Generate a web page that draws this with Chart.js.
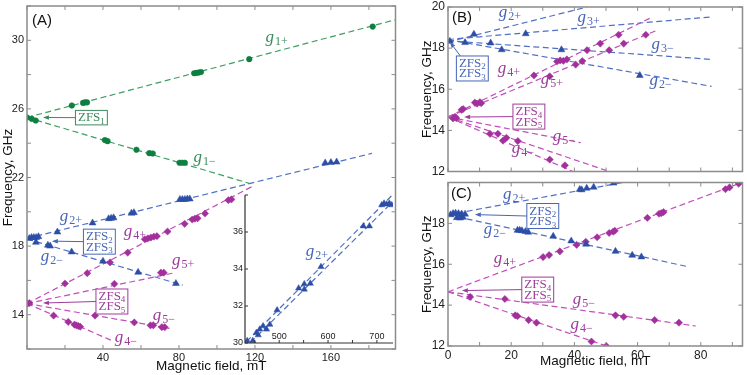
<!DOCTYPE html>
<html>
<head>
<meta charset="utf-8">
<title>Frequency vs magnetic field</title>
<script src="https://cdn.jsdelivr.net/npm/chart.js@4.4.1/dist/chart.umd.min.js"></script>
<style>
  html, body { margin: 0; padding: 0; background: #fff; }
  #wrap { position: relative; width: 747px; height: 375px; overflow: hidden; }
  #wrap canvas { position: absolute; }
</style>
</head>
<body>
<div id="wrap">
  <canvas id="panelA" width="400" height="375" style="left:0;top:0"></canvas>
  <canvas id="inset" width="185" height="160" style="left:215px;top:190px"></canvas>
  <canvas id="panelB" width="347" height="176" style="left:400px;top:0"></canvas>
  <canvas id="panelC" width="347" height="197" style="left:400px;top:178px"></canvas>
</div>
<script>
// ---- panel A: [field mT, frequency GHz] ----
const aG1Plus = [[0, 25.5], [23.6, 26.2], [29.5, 26.35], [30.5, 26.38], [31.6, 26.38], [88, 28.08], [89.2, 28.1], [90.4, 28.12], [91.6, 28.15], [117, 28.9], [182, 30.8]];
const aG1Minus = [[2.5, 25.42], [4.6, 25.32], [41, 24.18], [42.4, 24.12], [57.6, 23.62], [64.4, 23.42], [66.2, 23.4], [80.3, 22.86], [81.7, 22.86], [83.1, 22.86]];
const aG1PlusFit = [[0, 25.5], [194, 31.2]];
const aG1MinusFit = [[0, 25.5], [117, 21.66]];

const aG2Plus = [[1.2, 18.45], [2.4, 18.5], [3.6, 18.5], [4.8, 18.5], [6, 18.55], [16, 18.82], [34.5, 19.35], [43, 19.6], [44.3, 19.62], [45.6, 19.65], [55, 19.92], [56.3, 19.95], [80.5, 20.72], [81.8, 20.72], [83.1, 20.72], [84.4, 20.75], [85.7, 20.75], [157, 22.85], [160, 22.88], [163, 22.9]];
const aG2Minus = [[4.7, 18.22], [11, 18.05], [12.2, 18.0], [23.5, 17.66], [40, 17.12], [58.5, 16.47], [78.4, 15.82]];
const aG2PlusFit = [[0, 18.45], [181.6, 23.41]];
const aG2MinusFit = [[0, 18.42], [82, 15.72]];

const aZfs45 = [[0.3, 14.65], [1.2, 14.68]];
const aG4Plus = [[20, 15.82], [31.7, 16.42], [43.7, 17.05], [53, 17.62], [62, 18.4], [63.6, 18.45], [65.2, 18.5], [66.8, 18.55], [68.4, 18.58], [74, 18.85], [83, 19.3], [87, 19.55], [88.4, 19.6], [89.8, 19.62], [93.7, 19.9], [106, 20.68], [107.6, 20.72]];
const aG5Plus = [[46, 15.8], [70.5, 16.45], [72, 16.45]];
const aG5Minus = [[35.8, 13.95], [56.5, 13.55], [65, 13.38], [66.5, 13.38], [71, 13.27], [72.5, 13.27]];
const aG4Minus = [[14, 13.95], [21.7, 13.58], [25, 13.42], [26, 13.38], [27, 13.34], [28, 13.3]];
const aG4PlusFit = [[0, 14.65], [119, 21.5]];
const aG5PlusFit = [[0, 14.65], [78, 16.45]];
const aG5MinusFit = [[0, 14.65], [75, 13.2]];
const aG4MinusFit = [[0, 14.65], [44.5, 12.5]];

// ---- inset of A (high field) ----
const inG2Plus = [[434.5, 30.12], [445.9, 30.12], [453.4, 30.56], [457, 30.43], [460.2, 30.74], [467, 30.92], [474, 30.74], [480.8, 31.0], [495.7, 31.78], [539.8, 32.96], [551.4, 32.9], [551.4, 33.19], [563.7, 33.22], [585.5, 34.12], [672.4, 36.32], [684.7, 36.32], [709.9, 37.46], [714.7, 37.55], [720, 37.5], [725.5, 37.55], [730.4, 37.46]];
const inFitUpper = [[433, 30.07], [733.6, 38.05]];
const inFitLower = [[441, 30.02], [730.4, 37.58]];

// ---- panel B ----
const bZfs23 = [[0.6, 18.33]];
const bG2Plus = [[8.2, 18.68]];
const bG3Plus = [[24.6, 18.7]];
const bG3Minus = [[13.5, 18.25], [35.9, 17.92]];
const bG2Minus = [[5.4, 18.27], [17, 17.92], [60.7, 16.67]];
const bG2PlusFit = [[0, 18.3], [44, 20]];
const bG3PlusFit = [[0, 18.42], [83.4, 19.52]];
const bG3MinusFit = [[0, 18.36], [83.4, 17.45]];
const bG2MinusFit = [[0, 18.41], [83.4, 16.14]];

const bZfs45 = [[1.6, 14.58], [2.2, 14.66], [2.6, 14.6]];
const bG4Plus = [[4.8, 15.04], [8.5, 15.35], [10.1, 15.37], [27.2, 16.67], [34.5, 17.35], [35.5, 17.4], [36.5, 17.38], [37.6, 17.45], [44, 17.9], [48.2, 18.22], [54, 18.65]];
const bG5Plus = [[4.3, 15.0], [9.2, 15.3], [10.5, 15.32], [32.2, 16.63], [40.4, 17.2], [42.5, 17.37], [51, 17.9], [55.6, 18.22], [62.6, 18.65]];
const bG4MinusA = [[15.8, 13.83], [18.5, 13.64], [22.1, 13.48]];
const bG4MinusB = [[13.3, 13.83], [17.4, 13.5], [32.2, 12.58], [37, 12.3]];
const bG4PlusFit = [[0, 14.65], [64.8, 19.52]];
const bG5PlusFit = [[0, 14.65], [65.7, 18.84]];
const bG5MinusFit = [[0, 14.65], [42, 13.4]];
const bG4MinusAFit = [[0, 14.65], [52, 11.95]];
const bG4MinusBFit = [[0, 14.65], [41, 11.9]];

// ---- panel C ----
const cZfs23 = [[0.8, 18.42], [1.6, 18.48], [2.4, 18.5], [2.8, 18.28], [3.3, 18.48], [3.8, 18.26], [4.3, 18.46], [4.7, 18.3], [5.4, 18.45]];
const cG2Plus = [[41.7, 19.66], [42.3, 19.64], [43.9, 19.72], [46.1, 19.77], [52.4, 19.97]];
const cG2Minus = [[22, 17.66], [22.7, 17.66], [23.4, 17.64], [24.5, 17.6], [25.4, 17.57], [33.3, 17.37], [39, 17.14], [43.7, 16.98], [53, 16.63], [58.3, 16.44], [61.2, 16.36]];
const cG2PlusFit = [[0, 18.42], [57, 20.05]];
const cG2MinusFit = [[0, 18.42], [75.4, 15.9]];

const cG4Plus = [[30.1, 16.35], [32, 16.45], [35.4, 16.63], [40.7, 16.95], [43.6, 17.1], [47.2, 17.32], [51, 17.53], [52.3, 17.6], [52.8, 17.64], [63.1, 18.27], [66.8, 18.47], [67.5, 18.5], [68.2, 18.55], [87.8, 19.67], [89.1, 19.76], [92, 19.94]];
const cG5Minus = [[7, 14.4], [18, 14.3], [53, 13.5], [55.6, 13.43], [65.4, 13.27], [73.1, 13.14]];
const cG4Minus = [[21.3, 13.5], [22, 13.46], [25.5, 13.27], [28, 13.14], [45.4, 12.22], [50.1, 12.0]];
const cG4PlusFit = [[0, 14.65], [93, 20.0]];
const cG5MinusFit = [[0, 14.65], [78.4, 12.98]];
const cG4MinusFit = [[0, 14.65], [52, 11.9]];

// tick labels
const aXLabels = [40, 80, 120, 160];
const aYLabels = [14, 18, 22, 26, 30];
const inXLabels = [500, 600, 700];
const inYLabels = [30, 32, 34, 36];
const bYLabels = [12, 14, 16, 18, 20];
const cXLabels = [0, 20, 40, 60, 80];
const cYLabels = [12, 14, 16, 18];

const green = { pt: '#0d7f40', line: '#3d9f60', text: '#3a8c5c' };
const blue = { pt: '#2d4ea6', line: '#5070c4', text: '#4866b8' };
const magenta = { pt: '#a2309c', line: '#c24dbb', text: '#9d3c9a' };
const SANS = '"Liberation Sans", Arial, sans-serif';
const SERIF = '"Liberation Serif", "Times New Roman", serif';

const toXY = arr => arr.map(([x, y]) => ({ x, y }));

const marks = (arr, c, style, r) => ({
  data: toXY(arr), showLine: false, pointStyle: style, pointRadius: r,
  backgroundColor: c.pt, borderColor: c.pt, borderWidth: 0.5, order: 1
});

const fitLine = (arr, c) => ({
  data: toXY(arr), showLine: true, pointRadius: 0, borderColor: c.line,
  borderWidth: 1.2, borderDash: [6, 3.5], order: 2
});

const labelsOnly = list => v => list.some(l => Math.abs(l - v) < 1e-6) ? String(v) : null;

const pinSize = (w, h) => s => {
  if (w != null) s.width = w;
  if (h != null) s.height = h;
  s.paddingLeft = s.paddingRight = s.paddingTop = s.paddingBottom = 0;
};

function xAxis(o) {
  return {
    type: 'linear', position: 'bottom', min: o.min, max: o.max,
    grid: { display: false, drawTicks: false }, border: { display: false },
    ticks: { stepSize: o.step, autoSkip: false, maxRotation: 0, padding: o.pad, color: '#222',
      font: { family: SANS, size: o.fs }, callback: labelsOnly(o.labels) },
    title: o.title
      ? { display: true, text: o.title, color: '#111', font: { family: SANS, size: 13.5 }, padding: { top: 0, bottom: o.titlePad } }
      : { display: false },
    afterFit: pinSize(null, o.h)
  };
}

function yAxis(o) {
  return {
    type: 'linear', position: 'left', min: o.min, max: o.max,
    grid: { display: false, drawTicks: false }, border: { display: false },
    ticks: { stepSize: o.step, autoSkip: false, padding: o.pad, color: '#222',
      font: { family: SANS, size: o.fs }, callback: labelsOnly(o.labels) },
    title: o.title
      ? { display: true, text: o.title, color: '#111', font: { family: SANS, size: 13.5 }, padding: { top: o.titlePad, bottom: 0 } }
      : { display: false },
    afterFit: pinSize(o.w, null)
  };
}

// frame with inward ticks; optional x labels sitting inside, above the axis
function framePlugin(o) {
  return {
    id: 'frame',
    afterDatasetsDraw(chart) {
      const { ctx, chartArea: a, scales: { x, y } } = chart;
      ctx.save();
      ctx.strokeStyle = o.color;
      ctx.lineWidth = 1;
      ctx.beginPath();
      for (let i = Math.ceil(x.min / o.xStep - 1e-9); i <= Math.floor(x.max / o.xStep + 1e-9); i++) {
        const px = x.getPixelForValue(i * o.xStep);
        ctx.moveTo(px, a.bottom); ctx.lineTo(px, a.bottom - o.len);
        if (o.box) { ctx.moveTo(px, a.top); ctx.lineTo(px, a.top + o.len); }
      }
      for (let i = Math.ceil(y.min / o.yStep - 1e-9); i <= Math.floor(y.max / o.yStep + 1e-9); i++) {
        const py = y.getPixelForValue(i * o.yStep);
        ctx.moveTo(a.left, py); ctx.lineTo(a.left + o.len, py);
        if (o.box) { ctx.moveTo(a.right, py); ctx.lineTo(a.right - o.len, py); }
      }
      ctx.stroke();
      ctx.lineWidth = o.width;
      ctx.beginPath();
      if (o.box) {
        ctx.rect(a.left, a.top, a.right - a.left, a.bottom - a.top);
      } else {
        ctx.moveTo(a.left, a.top); ctx.lineTo(a.left, a.bottom); ctx.lineTo(a.right, a.bottom);
      }
      ctx.stroke();
      if (o.innerX) {
        ctx.font = o.innerFont; ctx.fillStyle = '#222';
        ctx.textAlign = 'center'; ctx.textBaseline = 'bottom';
        o.innerX.forEach(v => ctx.fillText(String(v), x.getPixelForValue(v), a.bottom - 2));
      }
      ctx.restore();
    }
  };
}

function drawG(ctx, cx, cy, sub, color) {
  const big = 'italic 17px ' + SERIF, small = '12px ' + SERIF;
  ctx.font = big; const w1 = ctx.measureText('g').width;
  ctx.font = small; const w2 = ctx.measureText(sub).width;
  const left = cx - (w1 + w2 + 1) / 2;
  ctx.fillStyle = color; ctx.textAlign = 'left'; ctx.textBaseline = 'alphabetic';
  ctx.font = big; ctx.fillText('g', left, cy + 2);
  ctx.font = small; ctx.fillText(sub, left + w1 + 1, cy + 5);
}

function drawBox(ctx, cx, cy, rows, color) {
  const big = '13px ' + SERIF, small = '9px ' + SERIF;
  const sizes = rows.map(([m, s]) => {
    ctx.font = big; const w1 = ctx.measureText(m).width;
    ctx.font = small; return [w1, ctx.measureText(s).width];
  });
  const w = Math.max(...sizes.map(([p, q]) => p + q)) + 5;
  const lh = 10.5, h = rows.length * lh + 4;
  const left = cx - w / 2, top = cy - h / 2;
  ctx.fillStyle = '#fff'; ctx.fillRect(left, top, w, h);
  ctx.strokeStyle = color; ctx.lineWidth = 1; ctx.strokeRect(left, top, w, h);
  ctx.fillStyle = color; ctx.textAlign = 'left'; ctx.textBaseline = 'alphabetic';
  rows.forEach(([m, s], i) => {
    const [w1, w2] = sizes[i];
    const x0 = cx - (w1 + w2) / 2, base = top + 11 + i * lh;
    ctx.font = big; ctx.fillText(m, x0, base);
    ctx.font = small; ctx.fillText(s, x0 + w1, base + 2.5);
  });
  return { left, top, right: left + w, bottom: top + h };
}

function drawArrow(ctx, x1, y1, x2, y2, color) {
  const ang = Math.atan2(y2 - y1, x2 - x1), len = 6, half = 2.2;
  const c = Math.cos(ang), s = Math.sin(ang);
  ctx.strokeStyle = color; ctx.fillStyle = color; ctx.lineWidth = 1;
  ctx.beginPath(); ctx.moveTo(x1, y1); ctx.lineTo(x2 - len * c, y2 - len * s); ctx.stroke();
  ctx.beginPath(); ctx.moveTo(x2, y2);
  ctx.lineTo(x2 - len * c + half * s, y2 - len * s - half * c);
  ctx.lineTo(x2 - len * c - half * s, y2 - len * s + half * c);
  ctx.closePath(); ctx.fill();
}

function notesPlugin(items) {
  return {
    id: 'notes',
    afterDraw(chart) {
      const { ctx, chartArea: a, scales: { x, y } } = chart;
      ctx.save();
      items.forEach(n => {
        if (n.kind === 'tag') {
          ctx.font = '15px ' + SANS; ctx.fillStyle = '#111';
          ctx.textAlign = 'left'; ctx.textBaseline = 'top';
          ctx.fillText(n.text, a.left + n.dx, a.top + n.dy);
        } else if (n.kind === 'g') {
          drawG(ctx, x.getPixelForValue(n.at[0]), y.getPixelForValue(n.at[1]), n.sub, n.color.text);
        } else if (n.kind === 'box') {
          const r = drawBox(ctx, x.getPixelForValue(n.at[0]), y.getPixelForValue(n.at[1]), n.rows, n.color.text);
          const tx = x.getPixelForValue(n.to[0]), ty = y.getPixelForValue(n.to[1]);
          if (n.from === 'corner') drawArrow(ctx, r.left + 4, r.top, tx, ty, n.color.text);
          else drawArrow(ctx, r.left, (r.top + r.bottom) / 2, tx, ty, n.color.text);
        }
      });
      ctx.restore();
    }
  };
}

function panel(id, datasets, scales, pad, plugins) {
  return new Chart(document.getElementById(id), {
    type: 'scatter',
    data: { datasets },
    options: {
      responsive: false, animation: false, events: [],
      layout: { padding: pad },
      plugins: { legend: { display: false }, tooltip: { enabled: false } },
      scales
    },
    plugins
  });
}

const zfs23 = [['ZFS', '2'], ['ZFS', '3']];
const zfs45 = [['ZFS', '4'], ['ZFS', '5']];
const MINUS = '\u2212';

panel('panelA', [
  fitLine(aG1PlusFit, green), fitLine(aG1MinusFit, green),
  fitLine(aG2PlusFit, blue), fitLine(aG2MinusFit, blue),
  fitLine(aG4PlusFit, magenta), fitLine(aG5PlusFit, magenta),
  fitLine(aG5MinusFit, magenta), fitLine(aG4MinusFit, magenta),
  marks(aG1Plus, green, 'circle', 2.8), marks(aG1Minus, green, 'circle', 2.8),
  marks(aG2Plus, blue, 'triangle', 4), marks(aG2Minus, blue, 'triangle', 4),
  marks(aZfs45, magenta, 'rectRot', 3.6), marks(aG4Plus, magenta, 'rectRot', 3.6),
  marks(aG5Plus, magenta, 'rectRot', 3.6), marks(aG5Minus, magenta, 'rectRot', 3.6),
  marks(aG4Minus, magenta, 'rectRot', 3.6)
], {
  x: xAxis({ min: 0, max: 194, step: 20, labels: aXLabels, fs: 11, pad: 2, h: 26, title: 'Magnetic field, mT', titlePad: 1 }),
  y: yAxis({ min: 12, max: 32, step: 2, labels: aYLabels, fs: 11, pad: 3, w: 27, title: 'Frequency, GHz', titlePad: 0 })
}, { top: 6, right: 4, left: 0, bottom: 0 }, [
  framePlugin({ color: '#8c8c8c', width: 1.5, len: 4, xStep: 20, yStep: 2, box: true }),
  notesPlugin([
    { kind: 'tag', text: '(A)', dx: 5, dy: 7 },
    { kind: 'g', at: [131.4, 30.0], sub: '1+', color: green },
    { kind: 'g', at: [93.5, 23.0], sub: '1' + MINUS, color: green },
    { kind: 'box', at: [33.9, 25.49], rows: [['ZFS', '1']], to: [8.4, 25.5], color: green },
    { kind: 'g', at: [23.1, 19.57], sub: '2+', color: blue },
    { kind: 'g', at: [13.1, 17.24], sub: '2' + MINUS, color: blue },
    { kind: 'box', at: [38.1, 18.26], rows: zfs23, to: [13.1, 18.29], color: blue },
    { kind: 'g', at: [56.8, 18.7], sub: '4+', color: magenta },
    { kind: 'g', at: [82.2, 17.04], sub: '5+', color: magenta },
    { kind: 'box', at: [44.7, 14.77], rows: zfs45, to: [8.4, 14.68], color: magenta },
    { kind: 'g', at: [72, 13.83], sub: '5' + MINUS, color: magenta },
    { kind: 'g', at: [52, 12.52], sub: '4' + MINUS, color: magenta }
  ])
]);

panel('inset', [
  fitLine(inFitUpper, blue), fitLine(inFitLower, blue),
  marks(inG2Plus, blue, 'triangle', 3.6)
], {
  x: xAxis({ min: 430, max: 733, step: 50, labels: [], fs: 9, pad: 0, h: 7 }),
  y: yAxis({ min: 30, max: 38, step: 1, labels: inYLabels, fs: 9, pad: 2, w: 30 })
}, { top: 5, right: 7, left: 0, bottom: 0 }, [
  framePlugin({ color: '#333', width: 1.2, len: 3, xStep: 50, yStep: 2, box: false,
    innerX: inXLabels, innerFont: '9px ' + SANS }),
  notesPlugin([{ kind: 'g', at: [577.4, 34.81], sub: '2+', color: blue }])
]);

panel('panelB', [
  fitLine(bG2PlusFit, blue), fitLine(bG3PlusFit, blue), fitLine(bG3MinusFit, blue), fitLine(bG2MinusFit, blue),
  fitLine(bG4PlusFit, magenta), fitLine(bG5PlusFit, magenta), fitLine(bG5MinusFit, magenta),
  fitLine(bG4MinusAFit, magenta), fitLine(bG4MinusBFit, magenta),
  marks(bZfs23, blue, 'triangle', 4), marks(bG2Plus, blue, 'triangle', 4), marks(bG3Plus, blue, 'triangle', 4),
  marks(bG3Minus, blue, 'triangle', 4), marks(bG2Minus, blue, 'triangle', 4),
  marks(bZfs45, magenta, 'rectRot', 3.6), marks(bG4Plus, magenta, 'rectRot', 3.6), marks(bG5Plus, magenta, 'rectRot', 3.6),
  marks(bG4MinusA, magenta, 'rectRot', 3.6), marks(bG4MinusB, magenta, 'rectRot', 3.6)
], {
  x: xAxis({ min: 0, max: 93.2, step: 10, labels: [], fs: 12, pad: 2, h: 3 }),
  y: yAxis({ min: 12, max: 20, step: 2, labels: bYLabels, fs: 12, pad: 3, w: 48, title: 'Frequency, GHz', titlePad: 19 })
}, { top: 7, right: 4, left: 0, bottom: 0 }, [
  framePlugin({ color: '#8c8c8c', width: 1.5, len: 4, xStep: 10, yStep: 2, box: true }),
  notesPlugin([
    { kind: 'tag', text: '(B)', dx: 4, dy: 3 },
    { kind: 'g', at: [19.6, 19.61], sub: '2+', color: blue },
    { kind: 'g', at: [44.5, 19.37], sub: '3+', color: blue },
    { kind: 'g', at: [67.9, 18.07], sub: '3' + MINUS, color: blue },
    { kind: 'g', at: [67.3, 16.29], sub: '2' + MINUS, color: blue },
    { kind: 'box', at: [7.7, 17.01], rows: zfs23, to: [0.6, 18.3], from: 'corner', color: blue },
    { kind: 'g', at: [19.3, 16.87], sub: '4+', color: magenta },
    { kind: 'g', at: [32.9, 16.34], sub: '5+', color: magenta },
    { kind: 'box', at: [25.6, 14.67], rows: zfs45, to: [5.1, 14.65], color: magenta },
    { kind: 'g', at: [36.7, 13.59], sub: '5' + MINUS, color: magenta },
    { kind: 'g', at: [23.7, 13.01], sub: '4' + MINUS, color: magenta }
  ])
]);

panel('panelC', [
  fitLine(cG2PlusFit, blue), fitLine(cG2MinusFit, blue),
  fitLine(cG4PlusFit, magenta), fitLine(cG5MinusFit, magenta), fitLine(cG4MinusFit, magenta),
  marks(cZfs23, blue, 'triangle', 4), marks(cG2Plus, blue, 'triangle', 4), marks(cG2Minus, blue, 'triangle', 4),
  marks(cG4Plus, magenta, 'rectRot', 3.6), marks(cG5Minus, magenta, 'rectRot', 3.6), marks(cG4Minus, magenta, 'rectRot', 3.6)
], {
  x: xAxis({ min: 0, max: 93.2, step: 10, labels: cXLabels, fs: 12, pad: 2, h: 29, title: 'Magnetic field, mT', titlePad: 6 }),
  y: yAxis({ min: 12, max: 20, step: 2, labels: cYLabels, fs: 12, pad: 3, w: 48, title: 'Frequency, GHz', titlePad: 19 })
}, { top: 3, right: 4, left: 0, bottom: 0 }, [
  framePlugin({ color: '#8c8c8c', width: 1.5, len: 4, xStep: 10, yStep: 2, box: true }),
  notesPlugin([
    { kind: 'tag', text: '(C)', dx: 3, dy: 4 },
    { kind: 'g', at: [20.9, 19.3], sub: '2+', color: blue },
    { kind: 'g', at: [14.8, 17.56], sub: '2' + MINUS, color: blue },
    { kind: 'box', at: [30, 18.36], rows: zfs23, to: [8.5, 18.43], color: blue },
    { kind: 'g', at: [18, 16.16], sub: '4+', color: magenta },
    { kind: 'box', at: [28.4, 14.76], rows: zfs45, to: [4.4, 14.71], color: magenta },
    { kind: 'g', at: [43, 14.13], sub: '5' + MINUS, color: magenta },
    { kind: 'g', at: [42.3, 12.92], sub: '4' + MINUS, color: magenta }
  ])
]);
</script>
</body>
</html>
